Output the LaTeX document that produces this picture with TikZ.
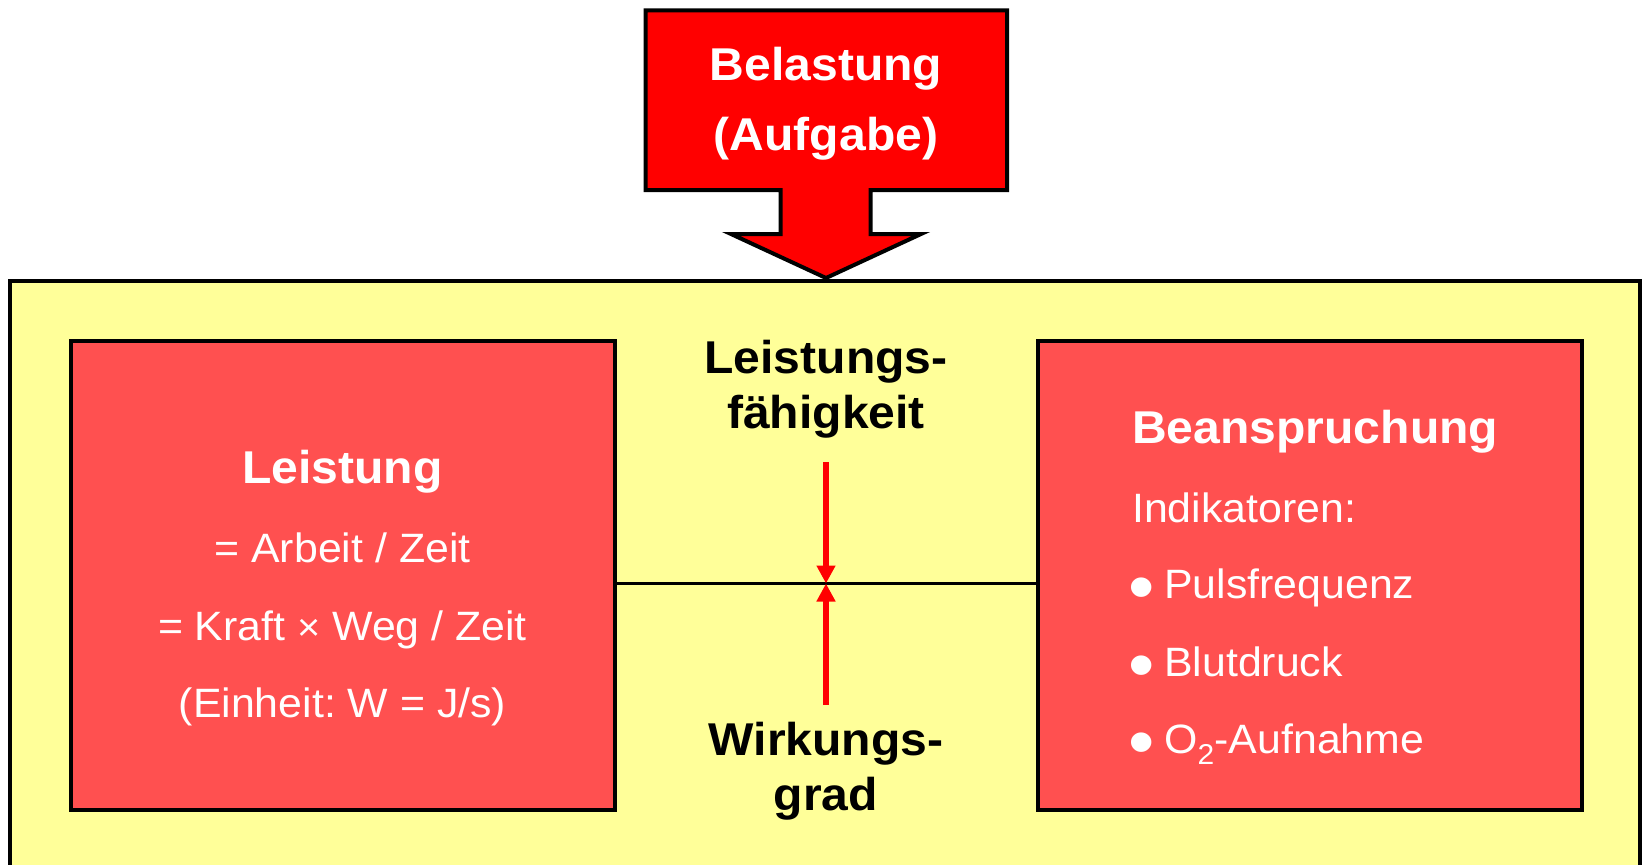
\documentclass[tikz,border=0pt]{standalone}
\usepackage{fontspec}
\setmainfont[FakeStretch=1.045]{Liberation Sans}
\usetikzlibrary{arrows.meta}
\definecolor{boxred}{HTML}{FF5050}
\definecolor{paleyellow}{HTML}{FFFF99}
\definecolor{purered}{HTML}{FF0000}
\frenchspacing
\begin{document}
\begin{tikzpicture}[x=1pt,y=-1pt,
  frame/.style={line width=4pt, draw=black},
  panel/.style={frame, fill=boxred, minimum width=544pt, minimum height=469pt, inner sep=0pt},
  btitle/.style={font=\fontsize{46}{55}\selectfont\bfseries, text=white, inner sep=0pt},
  wtext/.style={font=\fontsize{41}{50}\selectfont, text=white, inner sep=0pt},
  bulletmark/.style={font=\fontsize{72}{72}\selectfont, text=white, inner sep=0pt},
  ctext/.style={font=\fontsize{46}{55}\selectfont\bfseries, text=black, inner sep=0pt},
  redarrow/.style={draw=purered, line width=5.5pt, -{Triangle[width=18pt,length=18pt]}},
]
\useasboundingbox (0,0) rectangle (1642,865);
% outer yellow frame (open at the bottom)
\fill[paleyellow] (10,281) rectangle (1639.5,870);
\draw[frame] (10,870) -- (10,281) -- (1639.5,281) -- (1639.5,870);
% block arrow
\draw[frame, fill=purered] (645.5,10.3) -- (1007,10.3) -- (1007,190) -- (870.7,190) -- (870.7,234)
  -- (921,234) -- (826,278) -- (731,234) -- (780.7,234) -- (780.7,190) -- (645.5,190) -- cycle;
\node[btitle, anchor=base] (bel) at (826,80) {Belastung};
\node[btitle, anchor=base] (auf) at (826,150) {(Aufgabe)};
% panels
\node[panel] (L) at (342.5,575.7) {};
\node[panel] (R) at (1310,575.7) {};
\coordinate (mid) at (826,583.5);
\draw[line width=3.5pt] (L.east |- mid) -- (R.west |- mid);
% left panel text
\node[btitle, anchor=base] (lt) at (342.5,483) {Leistung};
\node[wtext, anchor=base] (l1) at (342.5,562) {= Arbeit / Zeit};
\node[wtext, anchor=base] (l2) at (342.5,640) {= Kraft {\fontsize{38}{38}\selectfont ×} Weg / Zeit};
\node[wtext, anchor=base] (l3) at (342.5,717) {(Einheit: W = J/s)};
% right panel text
\node[btitle, anchor=base west] (bt) at (1132,443) {Beanspruchung};
\node[wtext, anchor=base west] (ind) at (1132,522) {Indikatoren:};
\node[bulletmark, anchor=base] (b1) at (1142,611) {•};
\node[wtext, anchor=base west] (p1) at (1164,598) {Pulsfrequenz};
\node[bulletmark, anchor=base] (b2) at (1142,689) {•};
\node[wtext, anchor=base west] (p2) at (1164,676) {Blutdruck};
\node[bulletmark, anchor=base] (b3) at (1142,766) {•};
\node[wtext, anchor=base west] (p3) at (1164,753) {O\textsubscript{2}-Aufnahme};
% centre text
\node[ctext, anchor=base] (lf1) at (826,373) {Leistungs-};
\node[ctext, anchor=base] (lf2) at (826,428) {fähigkeit};
\node[ctext, anchor=base] (wg1) at (826,755) {Wirkungs-};
\node[ctext, anchor=base] (wg2) at (826,810) {grad};
% red arrows
\coordinate (atop) at (826,462);
\coordinate (abot) at (826,705);
\draw[redarrow] (atop) -- (mid);
\draw[redarrow] (abot) -- (mid);
\end{tikzpicture}
\end{document}
